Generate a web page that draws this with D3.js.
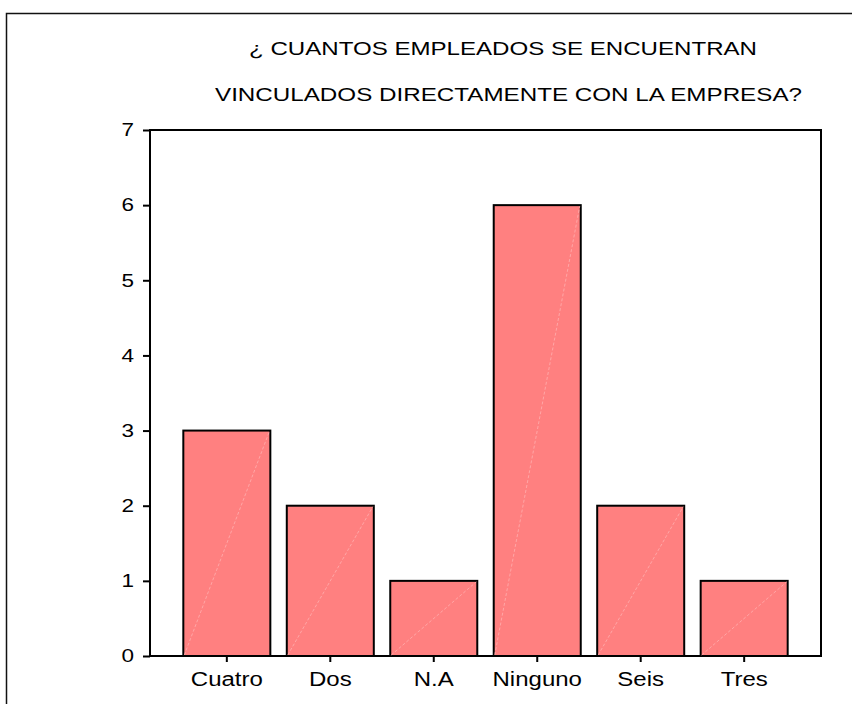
<!DOCTYPE html>
<html>
<head>
<meta charset="utf-8">
<script src="https://cdn.jsdelivr.net/npm/d3@7"></script>
<style>
  body { margin: 0; background: #fff; }
  text { font-family: "Liberation Sans", Arial, sans-serif; fill: #000; }
</style>
</head>
<body>
<div id="chart"></div>
<script>
// chart data
var categories = ["Cuatro", "Dos", "N.A", "Ninguno", "Seis", "Tres"];
var counts = [3, 2, 1, 6, 2, 1];
var yTicks = [0, 1, 2, 3, 4, 5, 6, 7];
var titleLines = ["¿ CUANTOS EMPLEADOS SE ENCUENTRAN", "VINCULADOS DIRECTAMENTE CON LA EMPRESA?"];

var svgWidth = 852;
var svgHeight = 704;
var plot = {left: 150, top: 130, right: 821, bottom: 656};

var svg = d3.select("#chart").append("svg")
  .attr("width", svgWidth)
  .attr("height", svgHeight);

// outer frame (runs off the right/bottom edge like the original)
svg.append("rect")
  .attr("x", 6.5).attr("y", 13.5)
  .attr("width", 900).attr("height", 900)
  .attr("fill", "none")
  .attr("stroke", "#111")
  .attr("stroke-width", 1.5);

// title
svg.append("g").attr("id", "title")
  .selectAll("text")
  .data(titleLines)
  .enter()
  .append("text")
    .attr("x", function(d, i) { return i == 0 ? 503 : 508.5 })
    .attr("y", function(d, i) { return 55 + i * 46 })
    .attr("text-anchor", "middle")
    .attr("font-size", 18)
    .attr("textLength", function(d, i) { return i == 0 ? 508 : 587 })
    .attr("lengthAdjust", "spacingAndGlyphs")
    .text(function(d) { return d });

var x = d3.scaleBand()
  .domain(categories)
  .range([plot.left, plot.right])
  .paddingInner(0.159)
  .paddingOuter(0.322);

var y = d3.scaleLinear()
  .domain([0, 7])
  .range([plot.bottom, plot.top]);

// plot box
svg.append("rect")
  .attr("x", plot.left).attr("y", plot.top)
  .attr("width", plot.right - plot.left)
  .attr("height", plot.bottom - plot.top)
  .attr("fill", "none")
  .attr("stroke", "#000")
  .attr("stroke-width", 2);

// bars
var bars = svg.append("g").attr("id", "bars")
  .selectAll("g")
  .data(categories)
  .enter()
  .append("g");

bars.append("rect")
  .attr("x", function(d) { return x(d) })
  .attr("y", function(d, i) { return y(counts[i]) })
  .attr("width", x.bandwidth())
  .attr("height", function(d, i) { return y(0) - y(counts[i]) })
  .attr("fill", "#ff8080")
  .attr("stroke", "#000")
  .attr("stroke-width", 2);

// faint diagonal in each bar
bars.append("line")
  .attr("x1", function(d) { return x(d) + 1 })
  .attr("y1", y(0) - 1)
  .attr("x2", function(d) { return x(d) + x.bandwidth() - 1 })
  .attr("y2", function(d, i) { return y(counts[i]) + 1 })
  .attr("stroke", "#ffb0b0")
  .attr("stroke-width", 0.8)
  .attr("stroke-dasharray", "3,2");

// the original text is drawn a bit wide
function widen(sel, size, stretch) {
  sel.attr("font-size", size)
    .attr("font-family", "Liberation Sans, Arial, sans-serif")
    .each(function() {
      var w = this.getComputedTextLength();
      d3.select(this).attr("textLength", w * stretch).attr("lengthAdjust", "spacingAndGlyphs");
    });
}

// y axis
var yAxis = svg.append("g")
  .attr("transform", "translate(" + plot.left + ",0)")
  .call(d3.axisLeft(y).tickValues(yTicks).tickSize(7).tickPadding(9).tickFormat(d3.format("d")));
yAxis.select(".domain").remove();
yAxis.selectAll("line").attr("stroke", "#000").attr("stroke-width", 2);
widen(yAxis.selectAll("text"), 18, 1.25);

// x axis
var xAxis = svg.append("g")
  .attr("transform", "translate(0," + plot.bottom + ")")
  .call(d3.axisBottom(x).tickSize(6).tickPadding(10));
xAxis.select(".domain").remove();
xAxis.selectAll("line").attr("stroke", "#000").attr("stroke-width", 2);
widen(xAxis.selectAll("text"), 20, 1.2);
</script>
</body>
</html>
